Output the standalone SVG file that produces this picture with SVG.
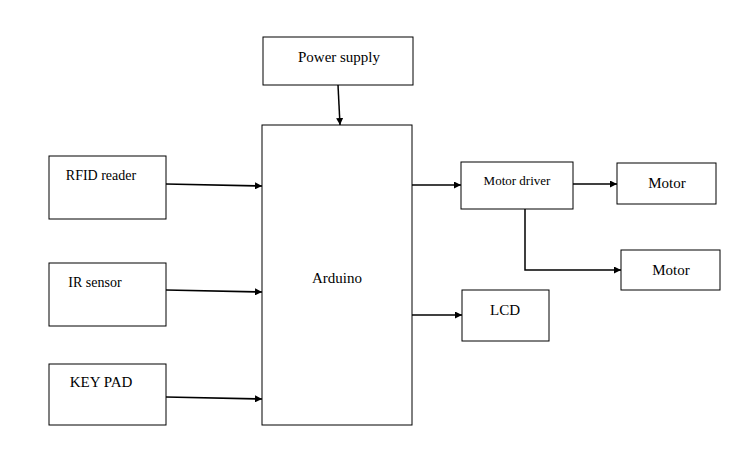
<svg xmlns="http://www.w3.org/2000/svg" width="753" height="455" viewBox="0 0 753 455">
<style>
rect{fill:#fff;stroke:#000;stroke-width:1}
text{font-family:"Liberation Serif",serif;font-size:15px;fill:#000;text-anchor:middle}
.c line,.c polyline{stroke:#000;stroke-width:1.5;fill:none;marker-end:url(#a)}
</style>
<defs><marker id="a" viewBox="0 0 10 10" refX="10" refY="5" markerWidth="7" markerHeight="7" orient="auto" markerUnits="userSpaceOnUse"><path d="M0,0L10,5L0,10z" fill="#000"/></marker></defs>
<rect width="753" height="455" style="stroke:none"/>
<g id="power"><rect x="263" y="37" width="150" height="48"/><text x="339" y="62">Power supply</text></g>
<g id="arduino"><rect x="262" y="125" width="150" height="300"/><text x="337" y="283">Arduino</text></g>
<g id="rfid"><rect x="49" y="156" width="117" height="63"/><text x="101" y="180" style="font-size:14px">RFID reader</text></g>
<g id="ir"><rect x="49" y="263" width="117" height="63"/><text x="95" y="287" style="font-size:14px">IR sensor</text></g>
<g id="keypad"><rect x="49" y="364" width="117" height="61"/><text x="101" y="387">KEY PAD</text></g>
<g id="driver"><rect x="461" y="162" width="112" height="47"/><text x="517" y="185" style="font-size:13px">Motor driver</text></g>
<g id="motor1"><rect x="617" y="163" width="99" height="41"/><text x="667" y="188">Motor</text></g>
<g id="motor2"><rect x="621" y="250" width="99" height="40"/><text x="671" y="275">Motor</text></g>
<g id="lcd"><rect x="462" y="290" width="87" height="51"/><text x="505" y="315">LCD</text></g>
<g class="c">
<line x1="338" y1="85" x2="340" y2="125"/>
<line x1="166" y1="184" x2="262" y2="186"/>
<line x1="166" y1="290" x2="262" y2="292"/>
<line x1="166" y1="397" x2="262" y2="399"/>
<line x1="412" y1="185" x2="461" y2="185"/>
<line x1="573" y1="184" x2="617" y2="184"/>
<polyline points="525,209 525,270 621,270"/>
<line x1="412" y1="315" x2="462" y2="315"/>
</g>
</svg>
